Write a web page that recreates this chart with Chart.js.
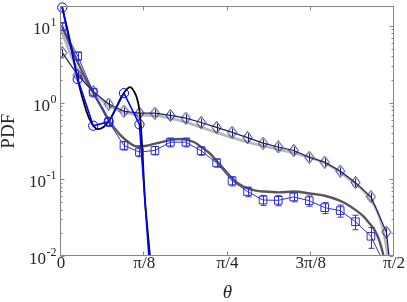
<!DOCTYPE html>
<html>
<head>
<meta charset="utf-8">
<script src="https://cdn.jsdelivr.net/npm/chart.js@4.4.0/dist/chart.umd.min.js"></script>
<style>
  html, body { margin: 0; padding: 0; background: #fff; }
  canvas { display: block; }
</style>
</head>
<body>
<canvas id="pdfChart" width="407" height="302"></canvas>
<script>
// bin centres (rad), shared by the three measured series
const theta = [0.006, 0.079, 0.152, 0.225, 0.297, 0.370, 0.443, 0.516, 0.589, 0.661, 0.734, 0.807,
               0.880, 0.953, 1.025, 1.098, 1.171, 1.244, 1.317, 1.389, 1.462, 1.535, 1.608];

// measured PDFs
const diamondPdf = [4.48, 2.29, 1.39, 0.96, 0.773, 0.731, 0.728, 0.682, 0.628, 0.551, 0.475, 0.410,
                    0.350, 0.296, 0.264, 0.238, 0.194, 0.167, 0.128, 0.0905, 0.0592, 0.0205, 0.0003];
const diamondErr = [0.5, 0.27, 0.16, 0.11, 0.09, 0.085, 0.085, 0.08, 0.075, 0.065, 0.055, 0.048,
                    0.042, 0.035, 0.031, 0.028, 0.023, 0.02, 0.015, 0.011, 0.007, 0.0025, 0];
const squarePdf = [9.88, 4.06, 1.37, 0.562, 0.276, 0.227, 0.238, 0.305, 0.305, 0.236, 0.164, 0.0951,
                   0.0692, 0.0537, 0.0532, 0.0589, 0.0526, 0.0427, 0.0391, 0.0280, 0.0181, 0.0069];
const squareErr = [1.0, 0.5, 0.15, 0.07, 0.035, 0.03, 0.03, 0.04, 0.04, 0.03, 0.02, 0.013,
                   0.01, 0.008, 0.008, 0.008, 0.008, 0.007, 0.007, 0.006, 0.0055, 0.002];
const circlePdf = [17.4, 2.03, 0.50, 0.562, 1.33, 0.52, 0.0008];

// model curves (black = circles, dark grey = squares, light grey = diamonds)
const blackTheta = [0.0047, 0.0424, 0.0801, 0.1211, 0.1461, 0.1744, 0.2026, 0.2309, 0.2592, 0.2875, 0.3110,
                    0.3252, 0.3440, 0.3581, 0.3699, 0.3770, 0.3841, 0.3958, 0.4076, 0.4194, 0.4335];
const blackPdf = [18.0, 6.39, 1.95, 0.757, 0.531, 0.451, 0.485, 0.597, 0.853, 1.22, 1.50,
                  1.59, 1.41, 1.15, 0.80, 0.485, 0.231, 0.0557, 0.0229, 0.01, 0.0027];

const darkTheta = [0.0024, 0.0424, 0.0801, 0.1178, 0.1555, 0.1932, 0.2309, 0.2780, 0.3252, 0.3581, 0.3958,
                   0.4524, 0.5137, 0.5608, 0.5985, 0.6315, 0.6645, 0.7022, 0.7351, 0.7728, 0.8058, 0.8435,
                   0.8812, 0.9189, 0.9566, 1.0273, 1.0980, 1.1734, 1.2441, 1.3148, 1.3525, 1.3935, 1.4279,
                   1.4562, 1.4797, 1.4953, 1.5080, 1.5188, 1.5268];
const darkPdf = [10.3, 5.68, 3.33, 2.01, 1.29, 0.853, 0.562, 0.383, 0.296, 0.268, 0.272,
                 0.296, 0.325, 0.335, 0.325, 0.302, 0.260, 0.218, 0.172, 0.132, 0.104, 0.0857,
                 0.0762, 0.0713, 0.0693, 0.0676, 0.0693, 0.0653, 0.0610, 0.0526, 0.0467, 0.0391, 0.0327,
                 0.0264, 0.0216, 0.0177, 0.0139, 0.0108, 0.0084];

const lightTheta = [0.0024, 0.0424, 0.0801, 0.1178, 0.1555, 0.1932, 0.2309, 0.2686, 0.3063, 0.3440, 0.3817,
                    0.4194, 0.4571, 0.4948, 0.5325, 0.5702, 0.6079, 0.6550, 0.7022, 0.7493, 0.8058, 0.8812,
                    0.9566, 1.0273, 1.0980, 1.1734, 1.2441, 1.3148, 1.3902, 1.4279, 1.4609, 1.4939, 1.5174,
                    1.5316, 1.5410, 1.5480];
const lightPdf = [8.6, 4.48, 2.63, 1.79, 1.37, 1.08, 0.904, 0.795, 0.742, 0.710, 0.690,
                  0.680, 0.672, 0.645, 0.610, 0.575, 0.536, 0.484, 0.437, 0.395, 0.352, 0.305,
                  0.272, 0.245, 0.221, 0.193, 0.164, 0.124, 0.0865, 0.0700, 0.0550, 0.0372, 0.0231,
                  0.0151, 0.01, 0.0070];

// axes
const xTickVals = [0, Math.PI / 8, Math.PI / 4, 3 * Math.PI / 8, Math.PI / 2];
const xTickLabels = ['0', 'π/8', 'π/4', '3π/8', 'π/2'];
const yDecades = [0.01, 0.1, 1, 10];
const yExponents = ['-2', '-1', '0', '1'];
const yMin = 0.01, yMax = 18;

const serif = '"Liberation Serif", "Times New Roman", serif';
const textColor = '#262626';
const frameColor = '#868686';
const navy = '#1c1c6e';
const squareBlue = '#2f2fd6';
const circleBlue = '#0000ff';

function pts(xs, ys) {
    return ys.map((v, i) => ({ x: xs[i], y: v }));
}

// diamond marker (a bit taller than wide)
const diamondMark = document.createElement('canvas');
diamondMark.width = 11;
diamondMark.height = 13;
(function() {
    const g = diamondMark.getContext('2d');
    g.strokeStyle = navy;
    g.lineWidth = 1;
    g.beginPath();
    g.moveTo(5.5, 0.5);
    g.lineTo(10, 6.5);
    g.lineTo(5.5, 12.5);
    g.lineTo(1, 6.5);
    g.closePath();
    g.stroke();
})();

// error bars, box, inward ticks, log tick labels
const frameAndErrors = {
    id: 'frameAndErrors',
    afterDatasetsDraw(chart) {
        const { ctx, chartArea: a, scales: { x, y } } = chart;

        ctx.save();
        ctx.beginPath();
        ctx.rect(a.left, a.top, a.right - a.left, a.bottom - a.top);
        ctx.clip();
        const bars = (vals, errs, color, cap) => {
            ctx.strokeStyle = color;
            ctx.lineWidth = 1;
            vals.forEach((v, i) => {
                if (!errs[i]) return;
                const px = Math.round(x.getPixelForValue(theta[i])) + 0.5;
                const y1 = y.getPixelForValue(v + errs[i]);
                const y2 = y.getPixelForValue(Math.max(v - errs[i], 1e-6));
                ctx.beginPath();
                ctx.moveTo(px, y1);
                ctx.lineTo(px, y2);
                if (cap) {
                    ctx.moveTo(px - cap, y1); ctx.lineTo(px + cap, y1);
                    ctx.moveTo(px - cap, y2); ctx.lineTo(px + cap, y2);
                }
                ctx.stroke();
            });
        };
        bars(diamondPdf, diamondErr, navy, 0);
        bars(squarePdf, squareErr, squareBlue, 3);
        ctx.restore();

        ctx.save();
        ctx.strokeStyle = frameColor;
        ctx.lineWidth = 1;
        const L = Math.round(a.left) - 0.5, R = Math.round(a.right) - 0.5;
        const T = Math.round(a.top) + 0.5, B = Math.round(a.bottom) - 0.5;
        ctx.strokeRect(L, T, R - L, B - T);
        ctx.beginPath();
        xTickVals.forEach(v => {
            const px = Math.round(x.getPixelForValue(v)) - 0.5;
            ctx.moveTo(px, B); ctx.lineTo(px, B - 4);
            ctx.moveTo(px, T); ctx.lineTo(px, T + 4);
        });
        yDecades.forEach(d => {
            for (let m = 1; m <= 9; m++) {
                const v = d * m;
                if (v > yMax) break;
                const py = Math.round(y.getPixelForValue(v)) + 0.5;
                const len = m === 1 ? 4 : 2;
                ctx.moveTo(L, py); ctx.lineTo(L + len, py);
                ctx.moveTo(R, py); ctx.lineTo(R - len, py);
            }
        });
        ctx.stroke();

        // 10^n labels
        ctx.fillStyle = textColor;
        ctx.textBaseline = 'alphabetic';
        ctx.textAlign = 'left';
        const bigFont = '17px ' + serif, supFont = '12px ' + serif;
        yDecades.forEach((d, i) => {
            const py = y.getPixelForValue(d);
            ctx.font = bigFont;
            const wBase = ctx.measureText('10').width;
            ctx.font = supFont;
            const wExp = ctx.measureText(yExponents[i]).width;
            const x0 = 56 - wBase - wExp;
            ctx.font = bigFont;
            ctx.fillText('10', x0, py + 8);
            ctx.font = supFont;
            ctx.fillText(yExponents[i], x0 + wBase + 0.5, py);
        });
        ctx.restore();
    }
};

const ctx = document.getElementById('pdfChart').getContext('2d');
new Chart(ctx, {
    type: 'line',
    data: {
        datasets: [
            {
                data: pts(theta, circlePdf),
                borderColor: circleBlue,
                borderWidth: 1.6,
                pointStyle: 'circle',
                pointRadius: 4.6,
                pointBorderColor: circleBlue,
                pointBorderWidth: 1,
                pointBackgroundColor: 'rgba(0,0,0,0)',
                tension: 0,
                clip: { left: 6, top: 8, right: 0, bottom: 0 }
            },
            {
                data: pts(theta, squarePdf),
                borderColor: squareBlue,
                borderWidth: 1,
                pointStyle: 'rect',
                pointRadius: 5.4,
                pointBorderColor: squareBlue,
                pointBorderWidth: 1,
                pointBackgroundColor: 'rgba(0,0,0,0)',
                tension: 0
            },
            {
                data: pts(theta, diamondPdf),
                borderColor: navy,
                borderWidth: 1.2,
                pointStyle: diamondMark,
                pointRadius: 5,
                tension: 0
            },
            {
                data: pts(blackTheta, blackPdf),
                borderColor: '#000000',
                borderWidth: 1.8,
                pointRadius: 0,
                cubicInterpolationMode: 'monotone'
            },
            {
                data: pts(darkTheta, darkPdf),
                borderColor: '#575757',
                borderWidth: 2.4,
                pointRadius: 0,
                cubicInterpolationMode: 'monotone'
            },
            {
                data: pts(lightTheta, lightPdf),
                borderColor: '#b8b8b8',
                borderWidth: 2.8,
                pointRadius: 0,
                cubicInterpolationMode: 'monotone'
            }
        ]
    },
    options: {
        responsive: false,
        animation: false,
        events: [],
        layout: { padding: { top: 3, right: 13, left: 0, bottom: 0 } },
        plugins: {
            legend: { display: false },
            tooltip: { enabled: false }
        },
        scales: {
            x: {
                type: 'linear',
                min: 0,
                max: Math.PI / 2,
                afterFit: s => { s.height = 46; },
                afterBuildTicks: s => { s.ticks = xTickVals.map(v => ({ value: v })); },
                ticks: {
                    callback: (v, i) => xTickLabels[i],
                    font: { family: serif, size: 17 },
                    color: textColor,
                    padding: -3,
                    maxRotation: 0,
                    autoSkip: false
                },
                grid: { display: false, drawTicks: false },
                border: { display: false },
                title: {
                    display: true,
                    text: 'θ',
                    font: { family: serif, size: 19, style: 'italic', lineHeight: 1 },
                    color: textColor,
                    padding: 0
                }
            },
            y: {
                type: 'logarithmic',
                min: yMin,
                max: yMax,
                afterFit: s => { s.width = 61; },
                ticks: { display: false },
                grid: { display: false, drawTicks: false },
                border: { display: false },
                title: {
                    display: true,
                    text: 'PDF',
                    font: { family: serif, size: 19, lineHeight: 1 },
                    color: textColor,
                    padding: 0
                }
            }
        }
    },
    plugins: [frameAndErrors]
});
</script>
</body>
</html>
